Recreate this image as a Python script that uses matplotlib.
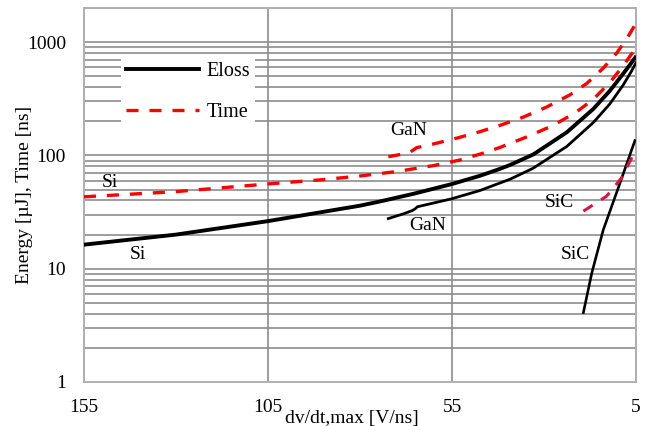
import numpy as np
import matplotlib
matplotlib.use("Agg")
import matplotlib.pyplot as plt
from matplotlib.ticker import LogLocator, NullFormatter, FixedLocator, FixedFormatter

# values (x = dv/dt,max in V/ns)
si_eloss_x = [155, 130, 105, 80, 74.6, 65.5, 55.1, 47.4, 42, 39.2, 32.9, 23.8, 16.6, 12.1, 8.5, 6.2, 5.2]
si_eloss_y = [16.3, 20.0, 26.3, 36, 39.2, 45.8, 55.8, 66.1, 76, 82.4, 102, 160, 257, 372, 525, 660, 730]

si_time_x = [155, 130, 105, 90, 80, 70, 60, 53, 46.5, 42, 34.7, 27.5, 21.2, 16.6, 12.1, 8.5, 6.2, 5]
si_time_y = [43.1, 47.9, 56, 61.1, 65.8, 72.1, 81.3, 90.8, 104.7, 117.5, 145.5, 184, 241.5, 313, 440, 617, 785, 870]

gan_eloss_x = [72.3, 68.2, 65.8, 65.0, 64.4, 55.1, 47.4, 39.2, 33, 23.8, 16.6, 12.1, 8.5, 6.2, 5.3, 5]
gan_eloss_y = [27.7, 30.5, 32.6, 33.8, 35.2, 41.4, 49, 61.7, 76.9, 120, 195, 285, 417, 556, 631, 655]

gan_time_x = [72.3, 69, 66.6, 65.6, 64.6, 60.1, 53.7, 47.4, 42, 35.6, 29.3, 22.9, 18.4, 13.9, 10.2, 7.5, 5.3, 5]
gan_time_y = [97.3, 102, 106, 111, 117, 126, 142, 162, 184, 218, 267, 343, 431, 589, 804, 1072, 1413, 1469]

sic_eloss_x = [19.3, 17, 13.9, 9.35, 5.3]
sic_eloss_y = [4.1, 9.2, 22, 57, 135]

sic_time_x = [19.3, 13, 8.9, 5.45, 5]
sic_time_y = [32.2, 43.6, 63.5, 106, 112]

x_ticks = [155, 105, 55, 5]
y_ticks = [1, 10, 100, 1000]
y_tick_labels = ["1", "10", "100", "1000"]

# text labels next to the curves: (text, x, y)
curve_labels = [("Si", 147.9, 57.7), ("Si", 140.3, 13.3),
                ("GaN", 66.7, 166), ("GaN", 61.5, 24),
                ("SiC", 25.9, 38.4), ("SiC", 21.6, 13.3)]


def main():
    plt.rcParams['font.family'] = ['Liberation Serif', 'DejaVu Serif']
    plt.rcParams['font.size'] = 14

    fig = plt.figure(figsize=(6.54, 4.26), dpi=100)
    ax = fig.add_axes([84 / 654, 1 - 382 / 426, 552 / 654, 374 / 426])

    dash = (3.6, 3.3)
    ax.plot(si_eloss_x, si_eloss_y, color='black', lw=2.8, label='Eloss', zorder=3)
    ax.plot(si_time_x, si_time_y, color='#ff0000', lw=2.4, dashes=dash, label='Time', zorder=3)
    ax.plot(gan_eloss_x, gan_eloss_y, color='black', lw=2.0, zorder=3)
    ax.plot(gan_time_x, gan_time_y, color='#ff0000', lw=2.4, dashes=dash, zorder=3)
    ax.plot(sic_eloss_x, sic_eloss_y, color='black', lw=1.9, zorder=3)
    ax.plot(sic_time_x, sic_time_y, color='#dc1446', lw=2.2, dashes=dash, zorder=3)

    for txt, xx, yy in curve_labels:
        ax.text(xx, yy, txt, ha='center', va='center', fontsize=14, zorder=4)

    ax.set_yscale('log')
    ax.set_xlim(155, 5)
    ax.set_ylim(1, 2000)

    ax.xaxis.set_major_locator(FixedLocator(x_ticks))
    ax.yaxis.set_major_locator(FixedLocator(y_ticks))
    ax.yaxis.set_major_formatter(FixedFormatter(y_tick_labels))
    ax.yaxis.set_minor_locator(LogLocator(base=10, subs=np.arange(2, 10)))
    ax.yaxis.set_minor_formatter(NullFormatter())

    ax.tick_params(axis='both', which='both', length=0)
    ax.tick_params(axis='x', pad=12)
    ax.tick_params(axis='y', pad=13)

    ax.grid(True, which='major', axis='x', color='#8c8c8c', lw=1.2)
    ax.grid(True, which='both', axis='y', color='#8c8c8c', lw=1.2)
    ax.set_axisbelow(True)
    for s in ax.spines.values():
        s.set_color('#b0b0b0')
        s.set_linewidth(1.4)

    ax.set_xlabel('dv/dt,max [V/ns]', va='center', ha='center')
    ax.xaxis.set_label_coords((352 - 84) / 552, (382 - 418) / 374)
    ax.set_ylabel('Energy [µJ], Time [ns]', va='center', ha='center')
    ax.yaxis.set_label_coords((25 - 84) / 552, 0.5)

    leg = ax.legend(loc='upper left', bbox_to_anchor=((121 - 84) / 552, (382 - 57) / 374),
                    borderaxespad=0, borderpad=0.25, handlelength=3.6, handletextpad=0.4,
                    labelspacing=1.1, frameon=True, fancybox=False, fontsize=14.5)
    leg.get_frame().set_facecolor('white')
    leg.get_frame().set_edgecolor('none')
    leg.get_frame().set_alpha(1)

    fig.savefig('out.png', dpi=100)


if __name__ == "__main__":
    main()
